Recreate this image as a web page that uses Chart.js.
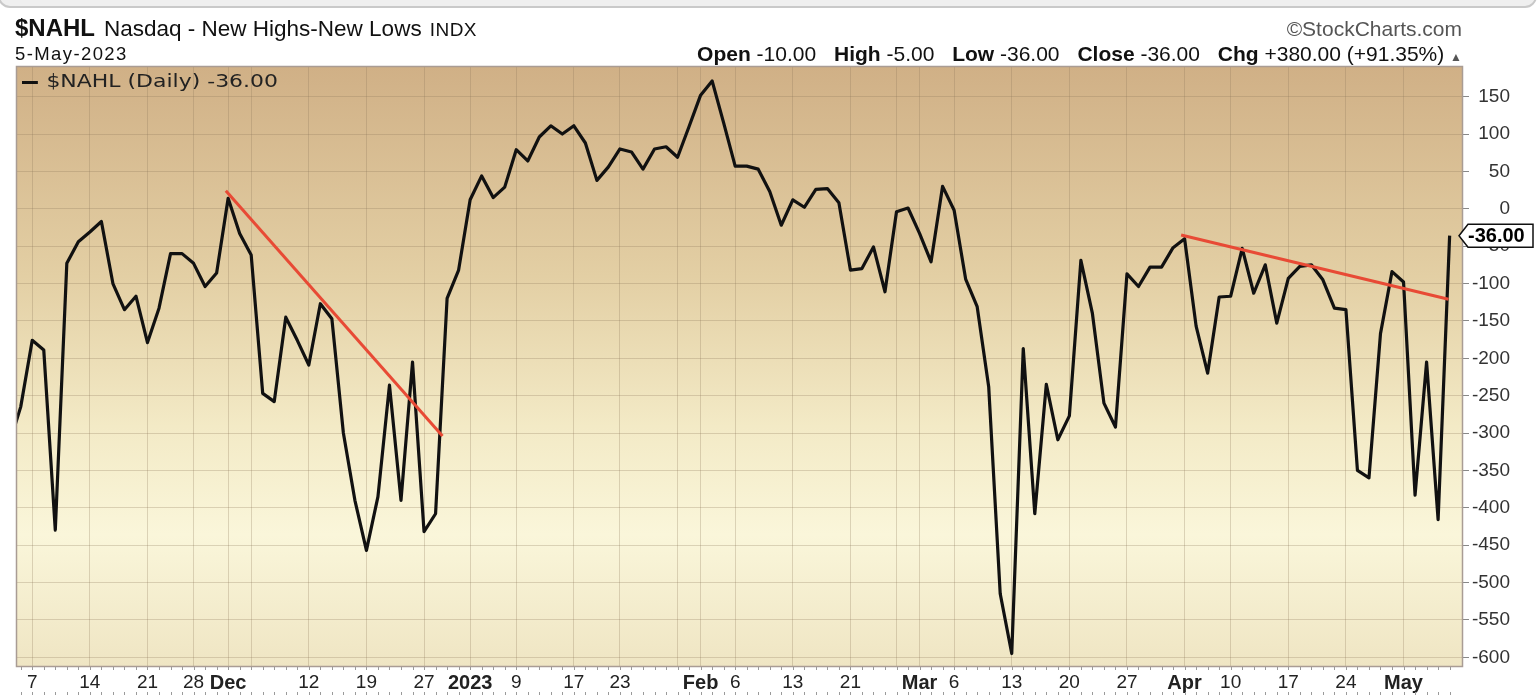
<!DOCTYPE html>
<html>
<head>
<meta charset="utf-8">
<script src="https://cdn.jsdelivr.net/npm/chart.js@4.4.0/dist/chart.umd.min.js"></script>
<style>
  html, body { margin: 0; padding: 0; background: #fff; }
  #wrap { position: relative; width: 1540px; height: 696px; overflow: hidden; font-family: "Liberation Sans", Arial, sans-serif; }
  #frame { position: absolute; left: -2px; right: 3px; top: -30px; height: 34px; border: 2px solid #c9c9c9; border-radius: 12px; background: #efefef; }
  canvas { position: absolute; left: 0; top: 0; }
  .hd { position: absolute; white-space: nowrap; color: #111; line-height: 1; }
  #title { left: 15px; top: 16px; }
  #title b { font-size: 24px; }
  #title .nm { font-size: 22.5px; margin-left: 9px; }
  #title .ex { font-size: 19px; margin-left: 8px; letter-spacing: 0.5px; }
  #date { left: 15px; top: 45px; font-size: 18.5px; letter-spacing: 1.4px; }
  #src { right: 78px; top: 18px; font-size: 21px; color: #555; }
  #ohlc { right: 78px; top: 43px; font-size: 21px; color: #111; }
  #ohlc b { font-size: 21px; margin-left: 12px; }
  #ohlc .tri { font-size: 12px; color: #555; }
  #legend { left: 22px; top: 72px; font-size: 18px; color: #222; font-family: "DejaVu Sans", sans-serif; transform: scaleX(1.22); transform-origin: left; }
  #legend .dash { display: inline-block; width: 13px; height: 3px; background: #111; vertical-align: middle; margin-right: 7px; }
</style>
</head>
<body>
<div id="wrap">
  <div id="frame"></div>
  <canvas id="chart" width="1540" height="696"></canvas>
  <div class="hd" id="title"><b>$NAHL</b><span class="nm">Nasdaq - New Highs-New Lows</span><span class="ex">INDX</span></div>
  <div class="hd" id="date">5-May-2023</div>
  <div class="hd" id="src">©StockCharts.com</div>
  <div class="hd" id="ohlc"><b>Open</b> -10.00 <b>High</b> -5.00 <b>Low</b> -36.00 <b>Close</b> -36.00 <b>Chg</b> +380.00 (+91.35%) <span class="tri">▲</span></div>
  <div class="hd" id="legend"><span class="dash"></span><span id="legendText"></span></div>
</div>
<script>
// trading days shown (Nov 3 is cut off at the left edge)
const days = [
  'Nov 3','Nov 4','Nov 7','Nov 8','Nov 9','Nov 10','Nov 11','Nov 14','Nov 15','Nov 16','Nov 17','Nov 18','Nov 21','Nov 22','Nov 23','Nov 25','Nov 28','Nov 29','Nov 30',
  'Dec 1','Dec 2','Dec 5','Dec 6','Dec 7','Dec 8','Dec 9','Dec 12','Dec 13','Dec 14','Dec 15','Dec 16','Dec 19','Dec 20','Dec 21','Dec 22','Dec 23','Dec 27','Dec 28','Dec 29','Dec 30',
  'Jan 3','Jan 4','Jan 5','Jan 6','Jan 9','Jan 10','Jan 11','Jan 12','Jan 13','Jan 17','Jan 18','Jan 19','Jan 20','Jan 23','Jan 24','Jan 25','Jan 26','Jan 27','Jan 30','Jan 31',
  'Feb 1','Feb 2','Feb 3','Feb 6','Feb 7','Feb 8','Feb 9','Feb 10','Feb 13','Feb 14','Feb 15','Feb 16','Feb 17','Feb 21','Feb 22','Feb 23','Feb 24','Feb 27','Feb 28',
  'Mar 1','Mar 2','Mar 3','Mar 6','Mar 7','Mar 8','Mar 9','Mar 10','Mar 13','Mar 14','Mar 15','Mar 16','Mar 17','Mar 20','Mar 21','Mar 22','Mar 23','Mar 24','Mar 27','Mar 28','Mar 29','Mar 30','Mar 31',
  'Apr 3','Apr 4','Apr 5','Apr 6','Apr 10','Apr 11','Apr 12','Apr 13','Apr 14','Apr 17','Apr 18','Apr 19','Apr 20','Apr 21','Apr 24','Apr 25','Apr 26','Apr 27','Apr 28',
  'May 1','May 2','May 3','May 4','May 5'
];

const nahl = [
  -315,-265,-176,-189,-430,-73,-44,-31,-17,-100,-135,-117,-179,-133,-60,-60,-73,-104,-86,
  14,-33,-62,-247,-258,-145,-176,-209,-127,-147,-300,-390,-457,-385,-236,-390,-205,-432,-408,-120,-82,
  12,44,15,29,79,64,96,111,100,111,88,38,56,80,76,53,80,83,69,110,
  152,171,115,57,57,53,23,-22,12,2,26,27,8,-82,-80,-51,-111,-4,1,
  -33,-71,30,-2,-94,-131,-238,-515,-595,-187,-408,-235,-309,-277,-69,-140,-260,-292,-87,-104,-78,-78,-52,
  -40,-157,-220,-118,-117,-53,-113,-75,-153,-93,-77,-75,-95,-133,-135,-350,-360,-167,-84,
  -98,-383,-205,-416,-36
];

// hand drawn trend lines: [day position, value]
const trendDec = [[18.8, 24], [37.6, -304]];
const trendApr = [[101.7, -35], [124.9, -121]];

const tickDays = ['Nov 7','Nov 14','Nov 21','Nov 28','Dec 1','Dec 12','Dec 19','Dec 27','Jan 3','Jan 9','Jan 17','Jan 23',
  'Feb 1','Feb 6','Feb 13','Feb 21','Mar 1','Mar 6','Mar 13','Mar 20','Mar 27','Apr 3','Apr 10','Apr 17','Apr 24','May 1'];
const tickLabels = ['7','14','21','28','Dec','12','19','27','2023','9','17','23',
  'Feb','6','13','21','Mar','6','13','20','27','Apr','10','17','24','May'];
const boldLabels = ['Dec','2023','Feb','Mar','Apr','May'];
const gridOnlyDays = ['Dec 5','Jan 30','Feb 27'];
const yTicks = [150,100,50,0,-50,-100,-150,-200,-250,-300,-350,-400,-450,-500,-550,-600];

const lastVal = nahl[nahl.length - 1];
document.getElementById('legendText').textContent = '$NAHL (Daily) ' + lastVal.toFixed(2);

const labelAt = {};
tickDays.forEach((d, i) => { labelAt[days.indexOf(d)] = tickLabels[i]; });
const gridIdx = tickDays.concat(gridOnlyDays).map(d => days.indexOf(d)).sort((a, b) => a - b);

const sans = '"Liberation Sans", Arial, sans-serif';

const deko = {
  id: 'deko',
  beforeDraw(chart) {
    const { ctx, chartArea: a } = chart;
    const g = ctx.createLinearGradient(0, a.top, 0, a.bottom);
    g.addColorStop(0, '#d0b086');
    g.addColorStop(0.35, '#e3cfa4');
    g.addColorStop(0.6, '#f3eac6');
    g.addColorStop(0.78, '#faf6da');
    g.addColorStop(1, '#efe5c3');
    ctx.save();
    ctx.fillStyle = g;
    ctx.fillRect(a.left, a.top, a.right - a.left, a.bottom - a.top);
    ctx.restore();
  },
  afterDraw(chart) {
    const { ctx, chartArea: a, scales: { x, y } } = chart;
    ctx.save();
    ctx.strokeStyle = '#a99c94';
    ctx.lineWidth = 1.5;
    ctx.strokeRect(a.left + 0.5, a.top + 0.5, a.right - a.left - 1, a.bottom - a.top - 1);

    // small day ticks under the plot and at the bottom
    ctx.strokeStyle = '#9a9a9a';
    ctx.lineWidth = 1;
    ctx.beginPath();
    days.forEach((d, i) => {
      const px = Math.round(x.getPixelForValue(i)) + 0.5;
      if (px < a.left || px > a.right) return;
      ctx.moveTo(px, a.bottom); ctx.lineTo(px, a.bottom + 3);
      ctx.moveTo(px, 692); ctx.lineTo(px, 695);
    });
    ctx.stroke();

    // last value tag
    const py = y.getPixelForValue(lastVal);
    ctx.beginPath();
    ctx.moveTo(1459, py);
    ctx.lineTo(1468, py - 11.5);
    ctx.lineTo(1533, py - 11.5);
    ctx.lineTo(1533, py + 11.5);
    ctx.lineTo(1468, py + 11.5);
    ctx.closePath();
    ctx.fillStyle = '#fff';
    ctx.fill();
    ctx.strokeStyle = '#111';
    ctx.lineWidth = 1.5;
    ctx.stroke();
    ctx.fillStyle = '#000';
    ctx.font = 'bold 20px ' + sans;
    ctx.textBaseline = 'middle';
    ctx.textAlign = 'left';
    ctx.fillText(lastVal.toFixed(2), 1468, py + 1);
    ctx.restore();
  }
};

new Chart(document.getElementById('chart'), {
  type: 'line',
  data: {
    datasets: [
      {
        data: trendDec.map(p => ({ x: p[0], y: p[1] })),
        borderColor: '#e84a35', borderWidth: 3, pointRadius: 0, order: 0
      },
      {
        data: trendApr.map(p => ({ x: p[0], y: p[1] })),
        borderColor: '#e84a35', borderWidth: 3, pointRadius: 0, order: 0
      },
      {
        data: nahl.map((v, i) => ({ x: i, y: v })),
        borderColor: '#111', borderWidth: 3.2, pointRadius: 0, tension: 0,
        borderJoinStyle: 'round', order: 1
      }
    ]
  },
  options: {
    responsive: false,
    animation: false,
    layout: { padding: { top: 66, left: 16, right: 30, bottom: 0 } },
    plugins: { legend: { display: false }, tooltip: { enabled: false } },
    scales: {
      x: {
        type: 'linear',
        min: 0.59,
        max: 126.16,
        afterBuildTicks: s => { s.ticks = gridIdx.map(v => ({ value: v })); },
        afterFit: s => { s.height = 29; },
        border: { display: false },
        grid: { color: 'rgba(140,118,88,0.28)', drawTicks: false },
        ticks: {
          autoSkip: false, maxRotation: 0, padding: 4, color: '#222',
          callback: v => labelAt[v] || '',
          font: c => ({ family: sans, size: boldLabels.includes(c.tick && c.tick.label) ? 20 : 19,
            weight: boldLabels.includes(c.tick && c.tick.label) ? 'bold' : 'normal' })
        }
      },
      y: {
        position: 'right',
        min: -613,
        max: 191,
        afterBuildTicks: s => { s.ticks = yTicks.map(v => ({ value: v })); },
        afterFit: s => { s.width = 47; },
        border: { display: false },
        grid: { color: 'rgba(140,118,88,0.28)', tickColor: '#888', tickLength: 6 },
        ticks: {
          crossAlign: 'far', padding: 2, color: '#333',
          font: { family: sans, size: 19 },
          callback: v => String(v)
        }
      }
    }
  },
  plugins: [deko]
});
</script>
</body>
</html>
